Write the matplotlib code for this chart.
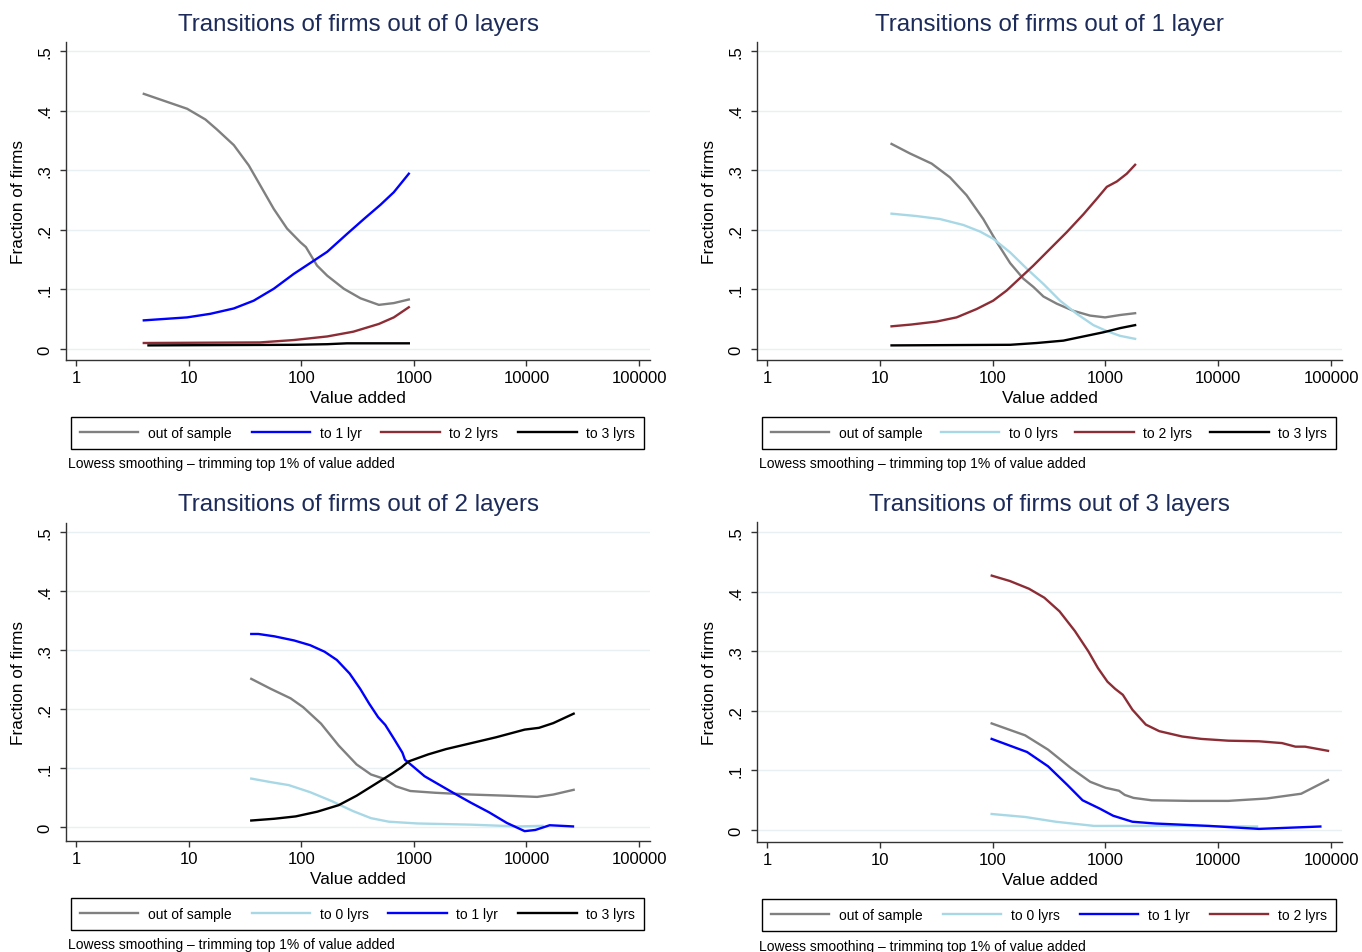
import matplotlib
matplotlib.use("Agg")
import matplotlib.pyplot as plt
from matplotlib.ticker import FixedLocator, NullLocator

plt.rcParams['font.family'] = ['Liberation Sans', 'DejaVu Sans']

# ---- data (value added, fraction of firms) ----
# out of 0 layers
p0_out_x = [4.0, 9.7, 14.1, 17.9, 25.2, 34.2, 43.4, 57.0, 74.8, 98.4, 110, 138, 170, 239, 336, 489, 664, 902]
p0_out_y = [.428, .403, .385, .368, .342, .308, .274, .235, .202, .179, .171, .140, .123, .101, .085, .074, .077, .083]
p0_l1_x = [4.0, 9.7, 15.6, 25.2, 37.8, 57.0, 85.9, 129, 170, 255, 360, 506, 664, 902]
p0_l1_y = [.048, .053, .059, .068, .081, .101, .126, .148, .163, .193, .218, .242, .263, .294]
p0_l2_x = [4.0, 43, 86, 170, 290, 489, 664, 902]
p0_l2_y = [.010, .011, .015, .021, .029, .042, .053, .070]
p0_l3_x = [4.4, 86, 170, 255, 902]
p0_l3_y = [.006, .007, .008, .0095, .0095]

# out of 1 layer
p1_out_x = [12.7, 18.5, 28.8, 41.8, 58.7, 82.6, 109, 143, 187, 230, 282, 370, 520, 731, 993, 1349, 1832]
p1_out_y = [.344, .328, .311, .288, .258, .218, .179, .144, .118, .104, .088, .076, .064, .056, .053, .057, .060]
p1_l0_x = [12.7, 21.1, 34.1, 55.0, 77.3, 101, 143, 200, 282, 396, 557, 782, 1028, 1349, 1832]
p1_l0_y = [.227, .223, .218, .208, .197, .185, .162, .135, .109, .081, .059, .040, .030, .022, .017]
p1_l2_x = [12.7, 19, 31.8, 47.9, 72.1, 101, 133, 175, 230, 323, 454, 638, 838, 1028, 1262, 1545, 1832]
p1_l2_y = [.038, .041, .046, .053, .067, .081, .098, .119, .140, .168, .196, .226, .252, .272, .281, .294, .309]
p1_l3_x = [12.7, 143, 246, 424, 638, 960, 1349, 1832]
p1_l3_y = [.006, .007, .010, .014, .021, .028, .035, .040]

# out of 2 layers
p2_out_x = [36, 53.7, 80.4, 104, 150, 215, 310, 416, 557, 693, 929, 1549, 3221, 6683, 12445, 17298, 26242]
p2_out_y = [.251, .234, .218, .203, .175, .138, .106, .089, .081, .069, .061, .058, .055, .053, .051, .055, .063]
p2_l0_x = [36, 53.7, 77.4, 120, 186, 288, 416, 600, 1076, 3221, 8337, 13900]
p2_l0_y = [.082, .076, .071, .059, .044, .027, .015, .009, .006, .004, .001, .002]
p2_l1_x = [36, 41.6, 57.8, 86.5, 120, 161, 207, 269, 334, 401, 482, 557, 668, 791, 834, 964,
           1245, 1667, 2234, 3221, 4645, 6683, 9638, 11995, 16069, 25882]
p2_l1_y = [.327, .327, .323, .316, .308, .297, .283, .260, .234, .209, .186, .173, .149, .126, .114, .104,
           .086, .072, .058, .041, .025, .007, -.007, -.005, .003, .001]
p2_l3_x = [36, 57.8, 89.5, 139, 215, 310, 448, 646, 774, 895, 1340, 1932, 3221, 5370, 9638, 12912, 17298, 26242]
p2_l3_y = [.011, .014, .018, .026, .037, .053, .072, .091, .101, .111, .123, .132, .142, .152, .165, .168, .176, .192]

# out of 3 layers
p3_out_x = [98, 194, 310, 495, 733, 1002, 1318, 1483, 1774, 2564, 5610, 12274, 26853, 54325, 93972]
p3_out_y = [.179, .159, .135, .104, .081, .071, .066, .059, .054, .050, .049, .049, .053, .061, .084]
p3_l0_x = [98, 194, 363, 793, 3793, 22080]
p3_l0_y = [.027, .022, .014, .007, .007, .006]
p3_l1_x = [98, 202, 310, 458, 627, 891, 1172, 1734, 2773, 8299, 22961, 80353]
p3_l1_y = [.153, .131, .107, .076, .050, .036, .024, .014, .011, .007, .002, .006]
p3_l2_x = [98.2, 142, 210, 287, 392, 536, 705, 857, 1042, 1219, 1426, 1734, 2280, 2999, 4797, 7096,
           12274, 22961, 36728, 48306, 58749, 93972]
p3_l2_y = [.427, .418, .405, .390, .367, .334, .300, .272, .249, .237, .227, .202, .177, .166, .157, .153,
           .150, .149, .146, .140, .140, .133]

titles = ['Transitions of firms out of 0 layers', 'Transitions of firms out of 1 layer',
          'Transitions of firms out of 2 layers', 'Transitions of firms out of 3 layers']
x_ticks = [1, 10, 100, 1000, 10000, 100000]
x_ticklabels = ['1', '10', '100', '1000', '10000', '100000']
y_ticks = [0, .1, .2, .3, .4, .5]
y_ticklabels = ['0', '.1', '.2', '.3', '.4', '.5']
note = 'Lowess smoothing \u2013 trimming top 1% of value added'

GRAY = '#808080'
LBLUE = '#a8d8e6'
BLUE = '#0000ff'
RED = '#8c2d36'
BLACK = '#000000'

panels = [
    [(p0_out_x, p0_out_y, GRAY, 'out of sample'), (p0_l1_x, p0_l1_y, BLUE, 'to 1 lyr'),
     (p0_l2_x, p0_l2_y, RED, 'to 2 lyrs'), (p0_l3_x, p0_l3_y, BLACK, 'to 3 lyrs')],
    [(p1_out_x, p1_out_y, GRAY, 'out of sample'), (p1_l0_x, p1_l0_y, LBLUE, 'to 0 lyrs'),
     (p1_l2_x, p1_l2_y, RED, 'to 2 lyrs'), (p1_l3_x, p1_l3_y, BLACK, 'to 3 lyrs')],
    [(p2_out_x, p2_out_y, GRAY, 'out of sample'), (p2_l0_x, p2_l0_y, LBLUE, 'to 0 lyrs'),
     (p2_l1_x, p2_l1_y, BLUE, 'to 1 lyr'), (p2_l3_x, p2_l3_y, BLACK, 'to 3 lyrs')],
    [(p3_out_x, p3_out_y, GRAY, 'out of sample'), (p3_l0_x, p3_l0_y, LBLUE, 'to 0 lyrs'),
     (p3_l1_x, p3_l1_y, BLUE, 'to 1 lyr'), (p3_l2_x, p3_l2_y, RED, 'to 2 lyrs')],
]

W, H = 1362, 953
# axes boxes in pixels: left, top, right, bottom
boxes = [(66, 43, 650, 361), (757, 43, 1342, 361), (66, 524, 650, 842), (757, 523, 1342, 843)]
ylims = [(-0.0185, 0.515), (-0.0185, 0.515), (-0.0237, 0.515), (-0.020, 0.517)]

fig = plt.figure(figsize=(W / 100, H / 100), dpi=100)

for i in range(4):
    l, t, r, b = boxes[i]
    ax = fig.add_axes([l / W, 1 - b / H, (r - l) / W, (b - t) / H])
    ax.set_xscale('log')
    for x, y, c, lab in panels[i]:
        ax.plot(x, y, color=c, lw=1.7, label=lab, solid_joinstyle='round')
    ax.set_xlim(0.815, 125000)
    ax.set_ylim(*ylims[i])
    ax.xaxis.set_major_locator(FixedLocator(x_ticks))
    ax.xaxis.set_minor_locator(NullLocator())
    ax.set_xticklabels(x_ticklabels)
    ax.set_yticks(y_ticks)
    ax.set_yticklabels(y_ticklabels, rotation=90, va='center')
    ax.tick_params(direction='out', length=4, width=1, colors='#333333', labelcolor='black', labelsize=12, pad=3.5)
    ax.tick_params(axis='y', pad=6)
    ax.grid(axis='y', color='#e8f0f2', lw=1)
    ax.set_axisbelow(True)
    for s in ['top', 'right']:
        ax.spines[s].set_visible(False)
    for s in ['left', 'bottom']:
        ax.spines[s].set_color('#333333')
        ax.spines[s].set_linewidth(1)
    ax.set_xlabel('Value added', fontsize=12.4)
    ax.xaxis.set_label_coords(0.5, -0.093)
    ax.set_ylabel('Fraction of firms', fontsize=12.4)
    ax.yaxis.set_label_coords(-0.068, 0.5)
    ax.set_title(titles[i], fontsize=17.4, color='#1c2b5a', pad=9)
    leg = ax.legend(loc='upper left', bbox_to_anchor=(0.0086, -0.279, 0.9815, 0.101), mode='expand',
                    ncol=4, fontsize=10, handlelength=4.2, handletextpad=0.7, borderpad=0.65,
                    borderaxespad=0, fancybox=False, edgecolor='black', framealpha=1)
    leg.get_frame().set_linewidth(1)
    ax.text(0.003, -0.324, note, transform=ax.transAxes, fontsize=10, va='center', ha='left')

fig.savefig('out.png', dpi=100)
